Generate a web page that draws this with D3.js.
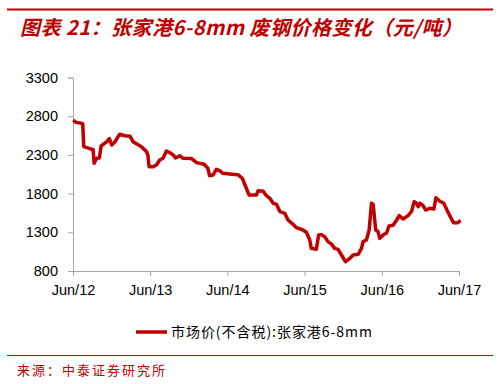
<!DOCTYPE html>
<html>
<head>
<meta charset="utf-8">
<script src="https://cdn.jsdelivr.net/npm/d3@7"></script>
<style>
  body { margin: 0; background: #fff; }
  svg { display: block; }
</style>
</head>
<body>
<svg id="chart" width="500" height="384"></svg>
<script>
// weekly scrap price
const dates = [
  '2012-06-02', '2012-06-15', '2012-07-11', '2012-07-17', '2012-07-22', '2012-08-20',
  '2012-09-04', '2012-09-09', '2012-09-21', '2012-10-04', '2012-10-12', '2012-11-08',
  '2012-11-20', '2012-12-01', '2012-12-17', '2013-01-07', '2013-02-03', '2013-02-26',
  '2013-03-12', '2013-04-05', '2013-04-21', '2013-05-15', '2013-05-21', '2013-05-27',
  '2013-06-15', '2013-07-01', '2013-07-16', '2013-08-01', '2013-08-17', '2013-09-02',
  '2013-09-18', '2013-09-29', '2013-10-19', '2013-11-04', '2013-12-14', '2014-01-07',
  '2014-02-11', '2014-03-01', '2014-03-09', '2014-03-25', '2014-04-10', '2014-04-26',
  '2014-05-11', '2014-06-12', '2014-07-21', '2014-08-11', '2014-08-30', '2014-09-12',
  '2014-10-17', '2014-10-25', '2014-11-18', '2014-11-30', '2014-12-19', '2015-01-04',
  '2015-01-20', '2015-02-05', '2015-02-28', '2015-03-15', '2015-04-08', '2015-04-24',
  '2015-05-25', '2015-06-10', '2015-06-26', '2015-07-03', '2015-07-27', '2015-08-07',
  '2015-08-20', '2015-09-05', '2015-09-20', '2015-10-06', '2015-10-22', '2015-11-07',
  '2015-11-23', '2015-12-12', '2016-01-02', '2016-01-17', '2016-02-10', '2016-02-26',
  '2016-03-04', '2016-03-20', '2016-04-02', '2016-04-13', '2016-04-21', '2016-05-03',
  '2016-05-14', '2016-05-22', '2016-06-07', '2016-06-23', '2016-07-05', '2016-07-24',
  '2016-08-10', '2016-08-22', '2016-09-10', '2016-10-03', '2016-10-19', '2016-11-01',
  '2016-11-12', '2016-11-20', '2016-11-28', '2016-12-13', '2016-12-26', '2017-01-14',
  '2017-02-02', '2017-02-12', '2017-03-01', '2017-03-21', '2017-04-09', '2017-04-25',
  '2017-05-06', '2017-05-27', '2017-06-08'
];
const prices = [
  2750, 2720, 2708, 2700, 2406, 2380,
  2370, 2191, 2256, 2260, 2415, 2471,
  2510, 2428, 2471, 2566, 2548, 2540,
  2471, 2430, 2406, 2341, 2300, 2148,
  2148, 2170, 2234, 2256, 2350, 2330,
  2299, 2260, 2290, 2256, 2252, 2200,
  2180, 2127, 2031, 2040, 2114, 2097,
  2062, 2054, 2045, 1998, 1869, 1782,
  1782, 1838, 1830, 1782, 1739, 1675,
  1660, 1566, 1545, 1459, 1403, 1360,
  1330, 1300, 1200, 1093, 1080, 1265,
  1270, 1243, 1179, 1150, 1093, 1080,
  1007, 920, 964, 1007, 1015, 1093,
  1179, 1200, 1330, 1675, 1660, 1330,
  1310, 1222, 1265, 1290, 1381, 1390,
  1459, 1515, 1472, 1515, 1566, 1695,
  1675, 1632, 1675, 1645, 1588, 1610,
  1600, 1747, 1705, 1675, 1566, 1480,
  1424, 1424, 1455
];
const yTicks = [800, 1300, 1800, 2300, 2800, 3300];
const xTicks = ['2012-06-01', '2013-06-01', '2014-06-01', '2015-06-01', '2016-06-01', '2017-06-01'];

const titleText = '图表 21：张家港6-8mm 废钢价格变化（元/吨）';
const legendText = '市场价(不含税):张家港6-8mm';
const sourceText = '来源：中泰证券研究所';

const red = '#c00000';
const parse = d3.timeParse('%Y-%m-%d');
const data = dates.map((d, i) => ({ date: parse(d), value: prices[i] }));

const svg = d3.select('#chart');

// header rule and title
svg.append('line')
  .attr('x1', 7).attr('x2', 493).attr('y1', 9.5).attr('y2', 9.5)
  .attr('stroke', red).attr('stroke-width', 2);

svg.append('text')
  .attr('x', 20).attr('y', 35)
  .attr('fill', red)
  .attr('textLength', 442)
  .attr('lengthAdjust', 'spacing')
  .style('font-family', '"Noto Sans CJK SC", sans-serif')
  .style('font-size', '20px')
  .style('font-weight', 'bold')
  .style('font-style', 'italic')
  .text(titleText);

// scales
const x = d3.scaleTime()
  .domain([parse(xTicks[0]), parse(xTicks[xTicks.length - 1])])
  .range([73, 459]);
const y = d3.scaleLinear().domain([800, 3300]).range([271, 77.5]);

const axisFont = '"Liberation Sans", Arial, sans-serif';

const yAxis = svg.append('g')
  .attr('transform', 'translate(73,0)')
  .call(d3.axisLeft(y).tickValues(yTicks).tickSize(5).tickPadding(10)
    .tickFormat(d3.format('d')));
const xAxis = svg.append('g')
  .attr('transform', 'translate(0,271)')
  .call(d3.axisBottom(x).tickValues(xTicks.map(parse)).tickSize(5).tickPadding(9)
    .tickFormat(d3.timeFormat('%b/%y')));

[yAxis, xAxis].forEach(g => {
  g.select('.domain').attr('stroke', '#a6a6a6');
  g.selectAll('.tick line').attr('stroke', '#a6a6a6');
  g.selectAll('.tick text')
    .attr('fill', '#000')
    .style('font-family', axisFont)
    .style('font-size', '14.5px');
});

// price line
const line = d3.line()
  .x(d => x(d.date))
  .y(d => y(d.value));

svg.append('path')
  .datum(data)
  .attr('d', line)
  .attr('fill', 'none')
  .attr('stroke', red)
  .attr('stroke-width', 3.5)
  .attr('stroke-linejoin', 'round');

// legend
svg.append('line')
  .attr('x1', 136).attr('x2', 167).attr('y1', 332).attr('y2', 332)
  .attr('stroke', red).attr('stroke-width', 3.5);
svg.append('text')
  .attr('x', 171).attr('y', 337)
  .attr('fill', '#000')
  .attr('textLength', 201)
  .attr('lengthAdjust', 'spacing')
  .style('font-family', '"Noto Sans CJK SC", sans-serif')
  .style('font-size', '14px')
  .text(legendText);

// footer
svg.append('line')
  .attr('x1', 7).attr('x2', 493).attr('y1', 355.5).attr('y2', 355.5)
  .attr('stroke', red).attr('stroke-width', 1);
svg.append('text')
  .attr('x', 17).attr('y', 375)
  .attr('fill', red)
  .style('font-family', '"Noto Sans CJK SC", sans-serif')
  .style('font-size', '13px')
  .style('letter-spacing', '2px')
  .text(sourceText);
</script>
</body>
</html>
